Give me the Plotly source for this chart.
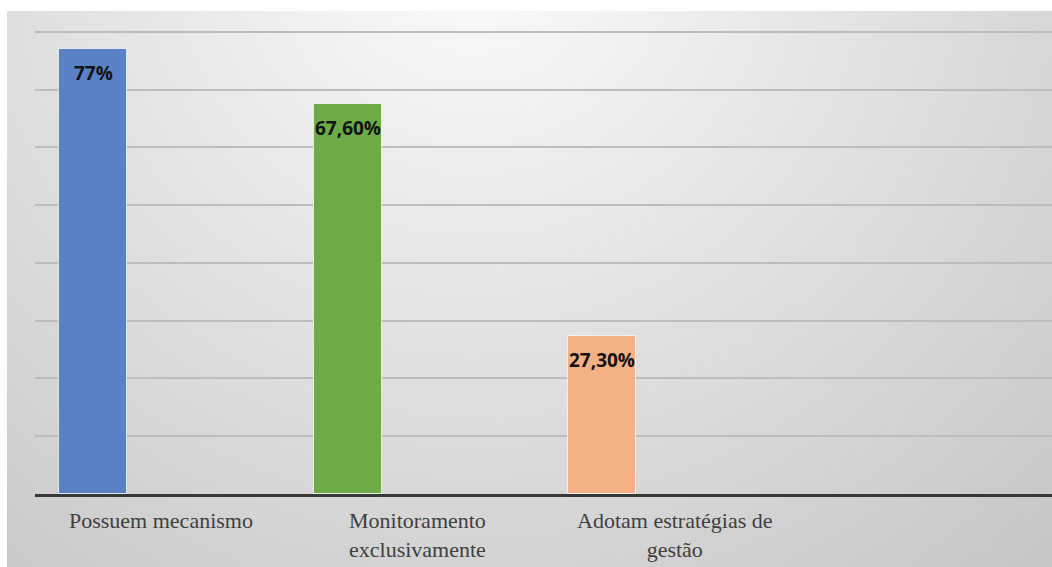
import base64, struct, zlib
import numpy as np
import plotly.graph_objects as go

categories = ["Possuem mecanismo", "Monitoramento<br>exclusivamente", "Adotam estratégias de<br>gestão"]
values = [77.0, 67.6, 27.3]
value_labels = ["77%", "67,60%", "27,30%"]
colors = ["#5a80c6", "#6cab46", "#f4b183"]

W, H = 1052, 567
L, R, T, B = 35, 0, 29, 73
pw, ph = W - L - R, H - T - B

# background gradient image (style only)
def make_png(w, h, fn):
    yy, xx = np.mgrid[0:h, 0:w]
    arr = fn(xx, yy).clip(0, 255).astype(np.uint8)
    raw = b"".join(b"\x00" + bytes(np.repeat(arr[r][:, None], 3, axis=1).flatten()) for r in range(h))
    def chunk(t, d):
        c = struct.pack(">I", len(d)) + t + d
        return c + struct.pack(">I", zlib.crc32(t + d) & 0xffffffff)
    png = b"\x89PNG\r\n\x1a\n" + chunk(b"IHDR", struct.pack(">IIBBBBB", w, h, 8, 2, 0, 0, 0))
    png += chunk(b"IDAT", zlib.compress(raw, 9)) + chunk(b"IEND", b"")
    return "data:image/png;base64," + base64.b64encode(png).decode()

s = 4
gw, gh = (W - 7) // s, (H - 11) // s
def grad(x, y):
    px = 7 + x * s
    py = 11 + y * s
    d = np.sqrt(((px - 470) / 1.05) ** 2 + (py + 50) ** 2)
    return 252 - 0.066 * d
bg = make_png(gw, gh, grad)

SERIF = "Liberation Serif"

x = list(range(len(categories)))
fig = go.Figure()
fig.add_trace(go.Bar(
    x=x, y=values, width=0.267,
    marker=dict(color=colors, line=dict(color="rgba(255,255,255,0.7)", width=1)),
    hoverinfo="skip",
))
for i, (v, t) in enumerate(zip(values, value_labels)):
    fig.add_annotation(x=i, y=v, text="<b>" + t + "</b>", showarrow=False, yanchor="middle", yshift=-24,
                       font=dict(family="Open Sans", size=19, color="#141414"))
label_shift = [68, 70, 73]
for i, c in enumerate(categories):
    fig.add_annotation(x=i, y=0, text=c, showarrow=False, xanchor="center", yanchor="top",
                       xshift=label_shift[i], yshift=-12, align="center",
                       font=dict(family=SERIF, size=22, color="#404040"))

fig.update_layout(
    width=W, height=H,
    margin=dict(l=L, r=R, t=T, b=B),
    font=dict(family=SERIF),
    paper_bgcolor="white", plot_bgcolor="rgba(0,0,0,0)",
    showlegend=False,
    bargap=0,
    images=[dict(source=bg, xref="paper", yref="paper",
                 x=(7 - L) / pw, y=(H - B - 11) / ph,
                 sizex=(W - 7) / pw, sizey=(H - 11) / ph,
                 xanchor="left", yanchor="top", sizing="stretch", layer="below")],
)
fig.update_xaxes(range=[-0.228, 3.768], showgrid=False, zeroline=False,
                 showline=True, linecolor="#383838", linewidth=3,
                 showticklabels=False, ticks="", fixedrange=True)
fig.update_yaxes(range=[0, 80.5], dtick=10, showgrid=True, gridcolor="#bdbdbd", gridwidth=1.5,
                 zeroline=False, showticklabels=False, fixedrange=True)

fig.write_html("out.html")
